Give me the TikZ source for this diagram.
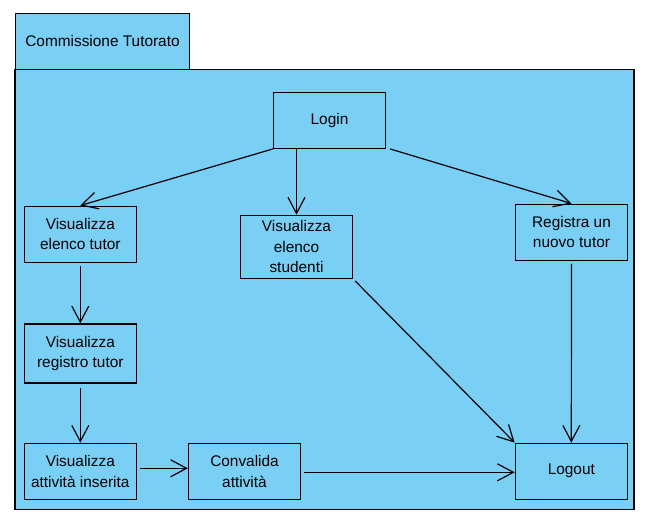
\documentclass[tikz,border=0pt]{standalone}
\usepackage{fontspec}
\setmainfont{Liberation Sans}
\usetikzlibrary{arrows.meta}
\definecolor{pkgblue}{RGB}{122,207,244}
\begin{document}
\begin{tikzpicture}[x=1pt,y=-1pt,
  box/.style={draw=black,fill=pkgblue,line width=1.3pt,minimum width=112pt,minimum height=56pt,inner sep=0pt,align=center,font=\fontsize{15.4}{20.5}\selectfont},
  flow/.style={line width=1.2pt,-{Straight Barb[length=16pt,width=17pt]}},
  pkgframe/.style={draw=black,fill=pkgblue,line width=1.3pt,inner sep=0pt,font=\fontsize{15.4}{20.5}\selectfont}]
\useasboundingbox (0,0) rectangle (648,518);
\node[pkgframe,minimum width=174pt,minimum height=56pt] (tab) at (102.5,41.3) {Commissione Tutorato};
\node[pkgframe,minimum width=619pt,minimum height=440pt] (pkg) at (324.6,289.3) {};
\node[box] (login) at (329.5,120.3) {Login};
\node[box] (vet) at (80.3,234.2) {Visualizza\\elenco tutor};
\node[box,minimum height=63pt] (ves) at (296.5,246.8) {Visualizza\\elenco\\studenti};
\node[box] (reg) at (571.5,232.2) {Registra un\\nuovo tutor};
\node[box,minimum height=59pt] (vrt) at (80.3,353.5) {Visualizza\\registro tutor};
\node[box] (vai) at (80.3,471.3) {Visualizza\\attività inserita};
\node[box] (conv) at (244.5,471.3) {Convalida\\attività};
\node[box] (logout) at (571.3,471.3) {Logout};
\draw[flow] (login.south west) -- (vet.north);
\draw[flow] (ves.north |- login.south) -- (ves.north);
\draw[flow] ([xshift=4pt]login.south east) -- (reg.north);
\draw[flow] ([yshift=-3pt]vet.south) -- (vrt.north);
\draw[flow] ([yshift=-4pt]vrt.south) -- (vai.north);
\draw[flow] ([xshift=3pt,yshift=3pt]vai.east) -- ([yshift=3pt]conv.west);
\draw[flow] ([xshift=3pt,yshift=-1pt]conv.east) -- ([yshift=-1pt]logout.west);
\draw[flow] ([xshift=2pt,yshift=-2pt]ves.south east) -- (logout.north west);
\draw[flow] ([yshift=-3pt]reg.south) -- (logout.north);
\end{tikzpicture}
\end{document}
